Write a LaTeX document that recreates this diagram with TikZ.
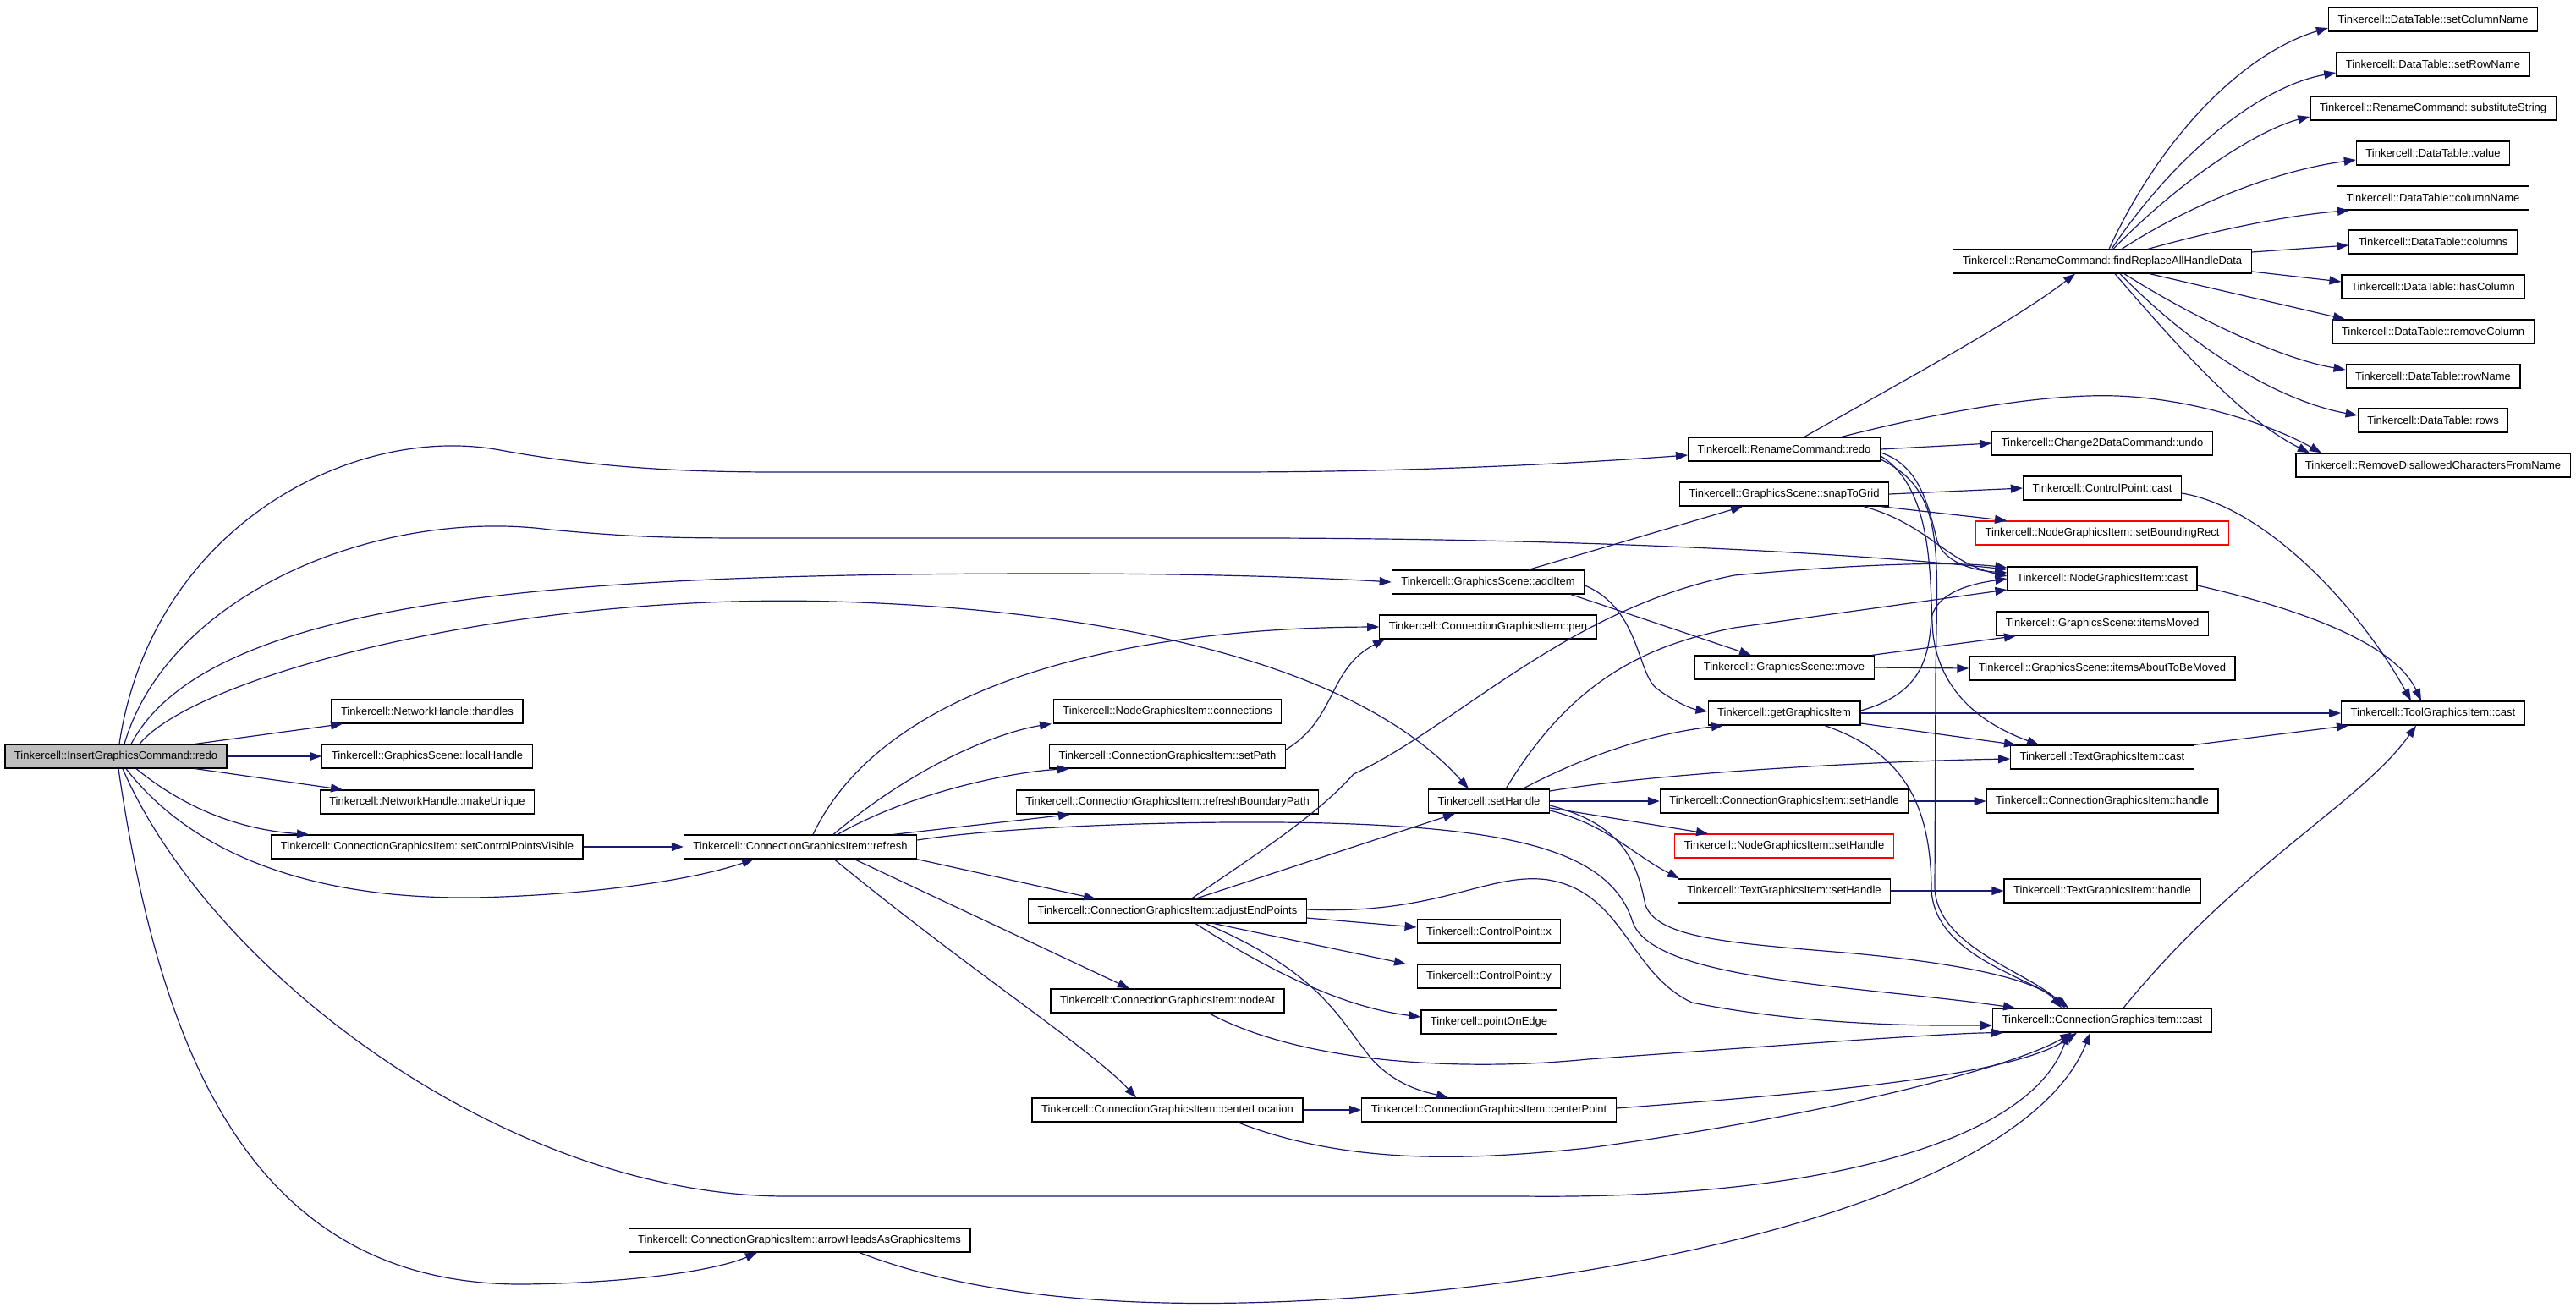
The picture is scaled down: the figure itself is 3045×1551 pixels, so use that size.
\documentclass[tikz,border=0pt]{standalone}
\usepackage{fontspec}
\setmainfont{Liberation Sans}
\usetikzlibrary{arrows.meta}
\definecolor{navy}{HTML}{191970}
\definecolor{greyroot}{HTML}{BFBFBF}
\begin{document}
\begin{tikzpicture}[x=1pt,y=-1pt,
  fn/.style={draw=black,line width=1.3pt,fill=white,minimum height=28pt,inner xsep=11pt,inner ysep=0pt,font=\fontsize{13}{15}\selectfont},
  fnred/.style={fn,draw=red},
  root/.style={fn,fill=greyroot},
  call/.style={draw=navy,line width=1.2pt,-{Triangle[length=14pt,width=10pt]}}]
\useasboundingbox (0,0) rectangle (3045,1551);
% nodes
\node[root] (IG) at (137,894) {Tinkercell::InsertGraphicsCommand::redo};
\node[fn] (NHh) at (505,841) {Tinkercell::NetworkHandle::handles};
\node[fn] (GSl) at (505,894) {Tinkercell::GraphicsScene::localHandle};
\node[fn] (NHm) at (505,948) {Tinkercell::NetworkHandle::makeUnique};
\node[fn] (SCPV) at (505,1001) {Tinkercell::ConnectionGraphicsItem::setControlPointsVisible};
\node[fn] (AH) at (945,1466) {Tinkercell::ConnectionGraphicsItem::arrowHeadsAsGraphicsItems};
\node[fn] (RF) at (946,1001) {Tinkercell::ConnectionGraphicsItem::refresh};
\node[fn] (CON) at (1380,841) {Tinkercell::NodeGraphicsItem::connections};
\node[fn] (SP) at (1380,894) {Tinkercell::ConnectionGraphicsItem::setPath};
\node[fn] (RBP) at (1380,948) {Tinkercell::ConnectionGraphicsItem::refreshBoundaryPath};
\node[fn] (AE) at (1380,1077) {Tinkercell::ConnectionGraphicsItem::adjustEndPoints};
\node[fn] (NA) at (1380,1183) {Tinkercell::ConnectionGraphicsItem::nodeAt};
\node[fn] (CL) at (1380,1312) {Tinkercell::ConnectionGraphicsItem::centerLocation};
\node[fn] (AI) at (1759,688) {Tinkercell::GraphicsScene::addItem};
\node[fn] (PEN) at (1759,741) {Tinkercell::ConnectionGraphicsItem::pen};
\node[fn] (SH) at (1760,947) {Tinkercell::setHandle};
\node[fn] (CPx) at (1760,1101) {Tinkercell::ControlPoint::x};
\node[fn] (CPy) at (1760,1154) {Tinkercell::ControlPoint::y};
\node[fn] (POE) at (1760,1208) {Tinkercell::pointOnEdge};
\node[fn] (CP) at (1760,1312) {Tinkercell::ConnectionGraphicsItem::centerPoint};
\node[fn] (RCR) at (2109,531) {Tinkercell::RenameCommand::redo};
\node[fn] (STG) at (2109,584) {Tinkercell::GraphicsScene::snapToGrid};
\node[fn] (MV) at (2109,789) {Tinkercell::GraphicsScene::move};
\node[fn] (GGI) at (2109,843) {Tinkercell::getGraphicsItem};
\node[fn] (CSH) at (2109,947) {Tinkercell::ConnectionGraphicsItem::setHandle};
\node[fnred] (NSH) at (2109,1000) {Tinkercell::NodeGraphicsItem::setHandle};
\node[fn] (TSH) at (2109,1053) {Tinkercell::TextGraphicsItem::setHandle};
\node[fn] (FR) at (2485,309) {Tinkercell::RenameCommand::findReplaceAllHandleData};
\node[fn] (C2D) at (2485,524) {Tinkercell::Change2DataCommand::undo};
\node[fn] (CPC) at (2485,577) {Tinkercell::ControlPoint::cast};
\node[fnred] (SBR) at (2485,630) {Tinkercell::NodeGraphicsItem::setBoundingRect};
\node[fn] (NGC) at (2485,684) {Tinkercell::NodeGraphicsItem::cast};
\node[fn] (IM) at (2485,737) {Tinkercell::GraphicsScene::itemsMoved};
\node[fn] (IATBM) at (2485,790) {Tinkercell::GraphicsScene::itemsAboutToBeMoved};
\node[fn] (TGC) at (2485,895) {Tinkercell::TextGraphicsItem::cast};
\node[fn] (CGH) at (2485,947) {Tinkercell::ConnectionGraphicsItem::handle};
\node[fn] (TGH) at (2485,1053) {Tinkercell::TextGraphicsItem::handle};
\node[fn] (CGC) at (2485,1206) {Tinkercell::ConnectionGraphicsItem::cast};
\node[fn] (DTa) at (2876,23) {Tinkercell::DataTable::setColumnName};
\node[fn] (DTb) at (2876,76) {Tinkercell::DataTable::setRowName};
\node[fn] (DTc) at (2876,128) {Tinkercell::RenameCommand::substituteString};
\node[fn] (DTd) at (2876,181) {Tinkercell::DataTable::value};
\node[fn] (DTe) at (2876,234) {Tinkercell::DataTable::columnName};
\node[fn] (DTf) at (2876,286) {Tinkercell::DataTable::columns};
\node[fn] (DTg) at (2876,339) {Tinkercell::DataTable::hasColumn};
\node[fn] (DTh) at (2876,392) {Tinkercell::DataTable::removeColumn};
\node[fn] (DTi) at (2876,445) {Tinkercell::DataTable::rowName};
\node[fn] (DTj) at (2876,497) {Tinkercell::DataTable::rows};
\node[fn] (RD) at (2876,550) {Tinkercell::RemoveDisallowedCharactersFromName};
\node[fn] (TLC) at (2876,843) {Tinkercell::ToolGraphicsItem::cast};
% edges from InsertGraphicsCommand::redo
\draw[call] ([xshift=94pt]IG.north) -- ([xshift=-100pt]NHh.south);
\draw[call] (IG.east) -- (GSl.west);
\draw[call] ([xshift=94pt]IG.south) -- ([xshift=-100pt]NHm.north);
\draw[call] ([xshift=24pt]IG.south) .. controls (230,965) and (300,982) .. ([xshift=-140pt]SCPV.north);
\draw[call] ([xshift=12pt]IG.south) .. controls (220,1000) and (350,1063) .. (560,1061) .. controls (700,1058) and (820,1040) .. ([xshift=-55pt]RF.south);
\draw[call] ([xshift=3pt]IG.south) .. controls (190,1250) and (300,1520) .. (620,1518) .. controls (760,1516) and (850,1500) .. ([xshift=-50pt]AH.south);
\draw[call] ([xshift=8pt]IG.south) .. controls (250,1150) and (600,1414) .. (930,1414) -- (1800,1414) .. controls (2150,1418) and (2400,1350) .. ([xshift=-40pt]CGC.south);
\draw[call] ([xshift=4pt]IG.north) .. controls (180,620) and (420,500) .. (591,532) .. controls (700,552) and (800,558) .. (921,558) -- (1450,558) .. controls (1700,558) and (1900,545) .. ([yshift=-7pt]RCR.west);
\draw[call] ([xshift=10pt]IG.north) .. controls (200,700) and (450,600) .. (650,626) .. controls (760,636) and (800,636) .. (921,636) -- (1500,636) .. controls (1900,637) and (2200,655) .. ([yshift=11pt]NGC.west);
\draw[call] ([xshift=18pt]IG.north) .. controls (250,700) and (700,678) .. (1247,678) .. controls (1450,678) and (1580,684) .. (AI.west);
\draw[call] ([xshift=28pt]IG.north) .. controls (230,800) and (600,700) .. (986,711) .. controls (1300,720) and (1600,780) .. ([xshift=-24pt]SH.north);
% refresh
\draw[call] (SCPV.east) -- (RF.west);
\draw[call] ([xshift=15pt]RF.north) .. controls (1050,800) and (1350,742) .. (PEN.west);
\draw[call] ([xshift=39pt]RF.north) .. controls (1100,890) and (1200,862) .. ([xshift=-137pt]CON.south);
\draw[call] ([xshift=44pt]RF.north) .. controls (1080,935) and (1200,912) .. ([xshift=-116pt]SP.south);
\draw[call] ([xshift=110pt]RF.north) -- ([xshift=-115pt]RBP.south);
\draw[call] (RF.south east) -- ([xshift=-85pt]AE.north);
\draw[call] ([xshift=64pt]RF.south) -- ([xshift=-45pt]NA.north);
\draw[call] ([xshift=40pt]RF.south) .. controls (1150,1150) and (1290,1240) .. ([xshift=-37pt]CL.north);
\draw[call] ([yshift=8pt]RF.east) .. controls (1200,975) and (1450,968) .. (1600,974) .. controls (1800,982) and (1905,1010) .. (1930,1090) .. controls (1955,1160) and (2200,1165) .. ([xshift=-103pt]CGC.north);
\draw[call] ([yshift=8pt]SP.east) .. controls (1580,850) and (1570,790) .. ([xshift=-122pt]PEN.south);
% adjustEndPoints
\draw[call] ([xshift=33pt]AE.north) -- ([xshift=-40pt]SH.south);
\draw[call] ([xshift=28pt]AE.north) .. controls (1500,1000) and (1560,960) .. (1600,915) .. controls (1720,860) and (1850,720) .. (2050,680) .. controls (2250,662) and (2330,666) .. ([yshift=13pt]NGC.west);
\draw[call] ([yshift=-8pt]AE.east) -- ([yshift=5pt]CPx.west);
\draw[call] ([xshift=55pt]AE.south) -- ([xshift=-98pt]CPy.north);
\draw[call] ([xshift=33pt]AE.south) .. controls (1520,1160) and (1600,1192) .. ([yshift=6pt]POE.west);
\draw[call] ([xshift=45pt]AE.south) .. controls (1560,1150) and (1580,1200) .. (1620,1250) .. controls (1650,1285) and (1690,1292) .. ([xshift=-48pt]CP.north);
\draw[call] ([yshift=2pt]AE.east) .. controls (1700,1082) and (1760,1030) .. (1830,1040) .. controls (1920,1055) and (1925,1150) .. (2000,1185) .. controls (2150,1215) and (2300,1212) .. ([yshift=-6pt]CGC.west);
% setHandle
\draw[call] ([xshift=40pt]SH.north) .. controls (1880,890) and (1960,866) .. ([xshift=-72pt]GGI.south);
\draw[call] ([xshift=20pt]SH.north) .. controls (1860,800) and (1950,762) .. (2050,742) -- ([yshift=-13pt]NGC.west);
\draw[call] ([yshift=12pt]SH.east) .. controls (1950,915) and (2200,900) .. ([yshift=-2pt]TGC.west);
\draw[call] (SH.east) -- (CSH.west);
\draw[call] ([yshift=-8pt]SH.east) -- ([xshift=-90pt]NSH.north);
\draw[call] ([yshift=-11pt]SH.east) .. controls (1900,975) and (1930,1010) .. ([xshift=-124pt]TSH.north);
\draw[call] ([yshift=-5pt]SH.east) .. controls (1920,975) and (1935,1020) .. (1945,1070) .. controls (1960,1110) and (2050,1115) .. (2192,1127) .. controls (2330,1140) and (2410,1160) .. ([xshift=-48pt]CGC.north);
% lower nodes to ConnectionGraphicsItem::cast
\draw[call] ([xshift=49pt]NA.south) .. controls (1550,1262) and (1750,1265) .. (1877,1252) .. controls (2100,1236) and (2300,1221) .. ([xshift=-117pt]CGC.south);
\draw[call] (CL.east) -- (CP.west);
\draw[call] ([xshift=83pt]CL.south) .. controls (1600,1380) and (1750,1370) .. (1877,1357) .. controls (2150,1320) and (2380,1262) .. ([xshift=-36pt]CGC.south);
\draw[call] ([yshift=2pt]CP.east) .. controls (2150,1292) and (2380,1272) .. ([xshift=-30pt]CGC.south);
\draw[call] ([xshift=71pt]AH.south) .. controls (1200,1552) and (1450,1544) .. (1601,1534) .. controls (2000,1505) and (2400,1400) .. ([xshift=-14pt]CGC.south);
% addItem
\draw[call] ([xshift=48pt]AI.north) -- ([xshift=-49pt]STG.south);
\draw[call] ([xshift=98pt]AI.south) -- ([xshift=-39pt]MV.north);
\draw[call] ([yshift=-4pt]AI.east) .. controls (1940,720) and (1935,800) .. (1960,815) .. controls (1980,830) and (2000,838) .. ([yshift=2pt]GGI.west);
% snapToGrid
\draw[call] (STG.east) -- (CPC.west);
\draw[call] ([xshift=114pt]STG.south) -- ([xshift=-113pt]SBR.north);
\draw[call] ([xshift=94pt]STG.south) .. controls (2280,620) and (2300,665) .. ([yshift=3pt]NGC.west);
% RenameCommand::redo
\draw[call] ([xshift=24pt]RCR.north) .. controls (2250,450) and (2380,380) .. ([xshift=-32pt]FR.south);
\draw[call] (RCR.east) -- (C2D.west);
\draw[call] ([xshift=68pt]RCR.north) .. controls (2300,485) and (2420,465) .. (2503,468) .. controls (2600,472) and (2690,505) .. ([xshift=-132pt]RD.north);
\draw[call] ([yshift=-4pt]RCR.east) .. controls (2270,550) and (2280,600) .. (2290,640) .. controls (2300,668) and (2340,675) .. ([yshift=7pt]NGC.west);
\draw[call] ([yshift=-8pt]RCR.east) .. controls (2290,580) and (2280,700) .. (2285,750) .. controls (2295,830) and (2360,862) .. ([xshift=-75pt]TGC.north);
\draw[call] ([yshift=-12pt]RCR.east) .. controls (2300,580) and (2290,650) .. (2288,800) -- (2287,1050) .. controls (2290,1120) and (2400,1150) .. ([xshift=-44pt]CGC.north);
% move, getGraphicsItem
\draw[call] ([xshift=104pt]MV.north) -- ([xshift=-102pt]IM.south);
\draw[call] (MV.east) -- (IATBM.west);
\draw[call] ([yshift=3pt]GGI.east) .. controls (2270,820) and (2280,780) .. (2283,730) .. controls (2290,700) and (2330,690) .. (NGC.west);
\draw[call] (GGI.east) -- (TLC.west);
\draw[call] ([yshift=-12pt]GGI.east) -- ([xshift=-102pt]TGC.north);
\draw[call] ([xshift=48pt]GGI.south) .. controls (2250,890) and (2282,950) .. (2283,1050) .. controls (2285,1130) and (2400,1155) .. ([xshift=-40pt]CGC.north);
\draw[call] (CSH.east) -- (CGH.west);
\draw[call] (TSH.east) -- (TGH.west);
% to ToolGraphicsItem::cast
\draw[call] ([xshift=109pt]TGC.north) -- ([xshift=-100pt]TLC.south);
\draw[call] ([xshift=25pt]CGC.north) .. controls (2650,1020) and (2790,950) .. ([xshift=-20pt]TLC.south);
\draw[call] ([yshift=-6pt]CPC.east) .. controls (2680,600) and (2790,720) .. ([xshift=-26pt]TLC.north);
\draw[call] ([yshift=-8pt]NGC.east) .. controls (2720,720) and (2830,760) .. ([xshift=-14pt]TLC.north);
% findReplaceAllHandleData
\draw[call] ([xshift=8pt]FR.north) .. controls (2560,150) and (2660,60) .. ([yshift=-10pt]DTa.west);
\draw[call] ([xshift=11pt]FR.north) .. controls (2580,170) and (2680,100) .. ([yshift=-10pt]DTb.west);
\draw[call] ([xshift=13pt]FR.north) .. controls (2590,200) and (2680,150) .. ([yshift=-10pt]DTc.west);
\draw[call] ([xshift=23pt]FR.north) .. controls (2600,235) and (2700,200) .. ([yshift=-8pt]DTd.west);
\draw[call] ([xshift=54pt]FR.north) .. controls (2620,272) and (2700,255) .. ([xshift=-99pt]DTe.south);
\draw[call] ([yshift=11pt]FR.east) -- ([yshift=-4pt]DTf.west);
\draw[call] ([yshift=-12pt]FR.east) -- ([yshift=6pt]DTg.west);
\draw[call] ([xshift=56pt]FR.south) -- ([xshift=-104pt]DTh.north);
\draw[call] ([xshift=26pt]FR.south) .. controls (2600,380) and (2700,425) .. ([yshift=8pt]DTi.west);
\draw[call] ([xshift=21pt]FR.south) .. controls (2600,420) and (2700,475) .. ([yshift=6pt]DTj.west);
\draw[call] ([xshift=15pt]FR.south) .. controls (2600,440) and (2660,500) .. ([xshift=-146pt]RD.north);
\end{tikzpicture}
\end{document}
